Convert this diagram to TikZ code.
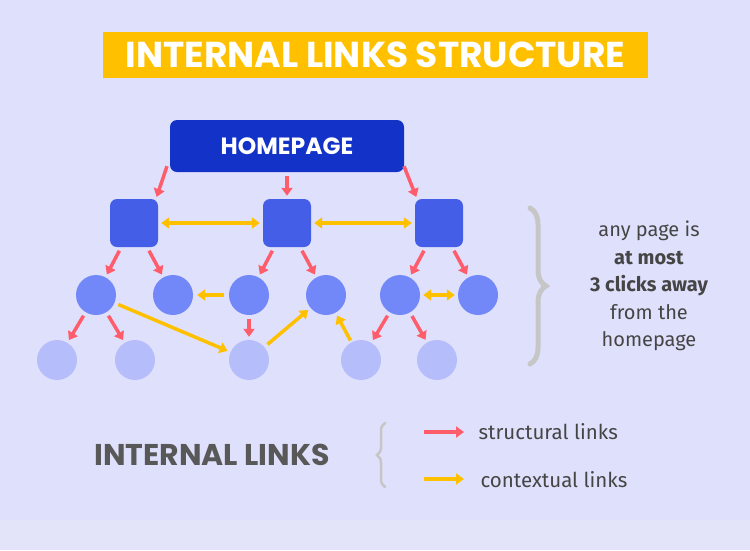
\documentclass[tikz,border=0pt]{standalone}
\usepackage{fontspec}
\setmainfont{Fira Sans}
\newfontfamily\popp{Poppins}
\usetikzlibrary{decorations.pathreplacing,arrows.meta}
\definecolor{bg}{HTML}{DFE1FC}
\definecolor{bgb}{HTML}{E3E3FA}
\definecolor{ylw}{HTML}{FFC000}
\definecolor{hb}{HTML}{1232C8}
\definecolor{sq}{HTML}{455EE8}
\definecolor{mc}{HTML}{7388F8}
\definecolor{lc}{HTML}{B5BDFB}
\definecolor{rd}{HTML}{FF5C6C}
\definecolor{tx}{HTML}{454545}
\begin{document}
\begin{tikzpicture}[x=1pt,y=-1pt,
  sqn/.style={fill=sq,draw=none,rounded corners=7pt,minimum size=48pt,inner sep=0},
  mid/.style={circle,fill=mc,minimum size=40pt,inner sep=0},
  low/.style={circle,fill=lc,minimum size=40pt,inner sep=0},
  sa/.style={draw=rd,line width=3.5pt,-{Triangle[length=8pt,width=11pt]},shorten <=4pt,shorten >=3pt},
  ca/.style={draw=ylw,line width=3.5pt,-{Triangle[length=8pt,width=11pt]},shorten <=4pt,shorten >=3pt},
  cb/.style={ca,{Triangle[length=8pt,width=11pt]}-{Triangle[length=8pt,width=11pt]}},
  body/.style={text=tx,font=\fontsize{20.5}{24}\selectfont}]
\fill[bg] (0,0) rectangle (750,550);
\fill[bgb] (0,520) rectangle (750,550);
\useasboundingbox (0,0) rectangle (750,550);
\node[fill=ylw,minimum width=545pt,minimum height=46pt,inner sep=0,text=white,font=\popp\bfseries\fontsize{36}{40}\selectfont] (title) at (375.5,55) {INTERNAL LINKS STRUCTURE};
\node[fill=hb,rounded corners=7pt,minimum width=234pt,minimum height=52pt,inner sep=0,text=white,font=\popp\bfseries\fontsize{23.5}{28}\selectfont] (home) at (287,146) {HOMEPAGE};
\node[sqn] (s1) at (134,223) {};
\node[sqn] (s2) at (287,223) {};
\node[sqn] (s3) at (439,223) {};
\foreach \i/\x in {1/96,2/173,3/249,4/326,5/400,6/478} \node[mid] (m\i) at (\x,295) {};
\foreach \i/\x in {1/57,2/135,3/249,4/361,5/437} \node[low] (l\i) at (\x,360) {};
\draw[sa,shorten <=0pt,shorten >=2pt] ([xshift=-120pt,yshift=6pt]home.south) -- ([xshift=22pt]s1.north);
\draw[sa,shorten <=4pt] (home.south) -- (s2);
\draw[sa,shorten <=0pt,shorten >=2pt] ([xshift=117pt,yshift=6pt]home.south) -- ([xshift=-22pt]s3.north);
\draw[sa] (s1) -- (m1); \draw[sa] (s1) -- (m2);
\draw[sa] (s2) -- (m3); \draw[sa] (s2) -- (m4);
\draw[sa] (s3) -- (m5); \draw[sa] (s3) -- (m6);
\draw[sa] (m1) -- (l1); \draw[sa] (m1) -- (l2);
\draw[sa] (m3) -- (l3);
\draw[sa] (m5) -- (l4); \draw[sa] (m5) -- (l5);
\draw[cb,shorten <=3pt] (s1) -- (s2);
\draw[cb,shorten <=3pt] (s2) -- (s3);
\draw[ca,shorten <=5pt,shorten >=4pt] (m3) -- (m2);
\draw[cb,shorten <=3pt] (m5) -- (m6);
\draw[ca] (m1) -- (l3);
\draw[ca] (l3) -- (m4);
\draw[ca,shorten <=2pt] (l4) -- (m4);
\coordinate (b1) at (530,208); \coordinate (b2) at (530,364);
\draw[draw=gray!45,line width=5pt,line cap=round,decorate,decoration={brace,amplitude=16pt}] (b1) -- (b2);
\node[body,align=center,font=\fontsize{20}{27.5}\selectfont] (note) at (649,286) {any page is\\\textbf{at most}\\\textbf{3 clicks away}\\from the\\homepage};
\node[text=tx!90,font=\popp\bfseries\fontsize{30}{34}\selectfont] (il) at (212,455) {INTERNAL LINKS};
\coordinate (c1) at (385,423); \coordinate (c2) at (385,487);
\draw[draw=gray!45,line width=2.5pt,line cap=round,decorate,decoration={brace,amplitude=8pt,mirror}] (c1) -- (c2);
\coordinate (r1) at (424,432); \coordinate (r2) at (464,432);
\coordinate (y1) at (424,479); \coordinate (y2) at (464,479);
\draw[draw=rd,line width=4pt,-{Triangle[length=8pt,width=11pt]}] (r1) -- (r2);
\draw[draw=ylw,line width=4pt,-{Triangle[length=8pt,width=11pt]}] (y1) -- (y2);
\node[body,anchor=west] (sl) at (475,432) {structural links};
\node[body,anchor=west] (cl) at (477,480) {contextual links};
\end{tikzpicture}
\end{document}
